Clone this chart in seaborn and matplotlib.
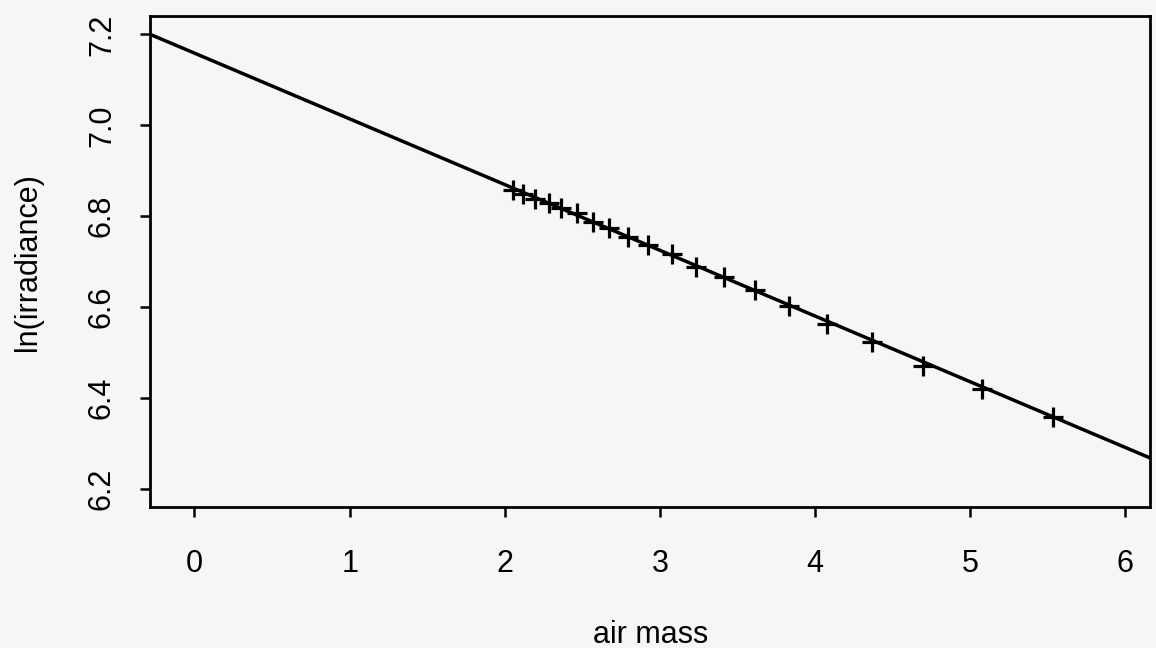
import matplotlib
matplotlib.use("Agg")
import numpy as np
import pandas as pd
import seaborn as sns
import matplotlib.pyplot as plt

air_mass = [2.055, 2.120, 2.197, 2.287, 2.365, 2.468, 2.571, 2.674, 2.796, 2.925,
            3.080, 3.235, 3.415, 3.615, 3.834, 4.079, 4.369, 4.697, 5.077, 5.535]
ln_irr = [6.857, 6.848, 6.837, 6.829, 6.818, 6.807, 6.787, 6.774, 6.754, 6.736,
          6.716, 6.688, 6.666, 6.637, 6.602, 6.563, 6.523, 6.470, 6.420, 6.358]

# fitted line, end points as drawn
fit_x = [-0.32, 6.2]
fit_y = [7.205, 6.262]

x_ticks = [0, 1, 2, 3, 4, 5, 6]
y_ticks = [6.2, 6.4, 6.6, 6.8, 7.0, 7.2]

pts = pd.DataFrame({"air mass": air_mass, "ln(irradiance)": ln_irr})
fit = pd.DataFrame({"air mass": fit_x, "ln(irradiance)": fit_y})

sns.set_style("white")
plt.rcParams['font.family'] = ['Liberation Sans', 'DejaVu Sans']
plt.rcParams['text.color'] = 'black'
plt.rcParams['axes.labelcolor'] = 'black'
bg = "#f6f6f6"

fig = plt.figure(figsize=(11.56, 6.48), dpi=100, facecolor=bg)
ax = fig.add_axes([0.130, 0.2176, 0.865, 0.7574], facecolor=bg)

sns.lineplot(data=fit, x="air mass", y="ln(irradiance)", color="black",
             linewidth=2.5, ax=ax)
sns.scatterplot(data=pts, x="air mass", y="ln(irradiance)", marker="+",
                color="black", s=200, linewidth=2.3, ax=ax, zorder=3)

ax.set_xlim(-0.285, 6.16)
ax.set_ylim(6.16, 7.24)
ax.set_xticks(x_ticks)
ax.set_xticklabels([str(v) for v in x_ticks])
ax.set_yticks(y_ticks)
ax.set_yticklabels([f"{v:.1f}" for v in y_ticks], rotation=90, va="center")

for s in ax.spines.values():
    s.set_color("black")
    s.set_linewidth(2.0)

ax.tick_params(axis="both", which="both", direction="out", length=7, width=1.8,
               color="black", labelsize=22, labelcolor="black")
ax.tick_params(axis="x", pad=23, bottom=True)
ax.tick_params(axis="y", pad=17, left=True)

ax.set_xlabel("air mass", fontsize=22, labelpad=30)
ax.set_ylabel("ln(irradiance)", fontsize=22, labelpad=32)

fig.savefig("out.png", dpi=100, facecolor=bg)
plt.close(fig)
